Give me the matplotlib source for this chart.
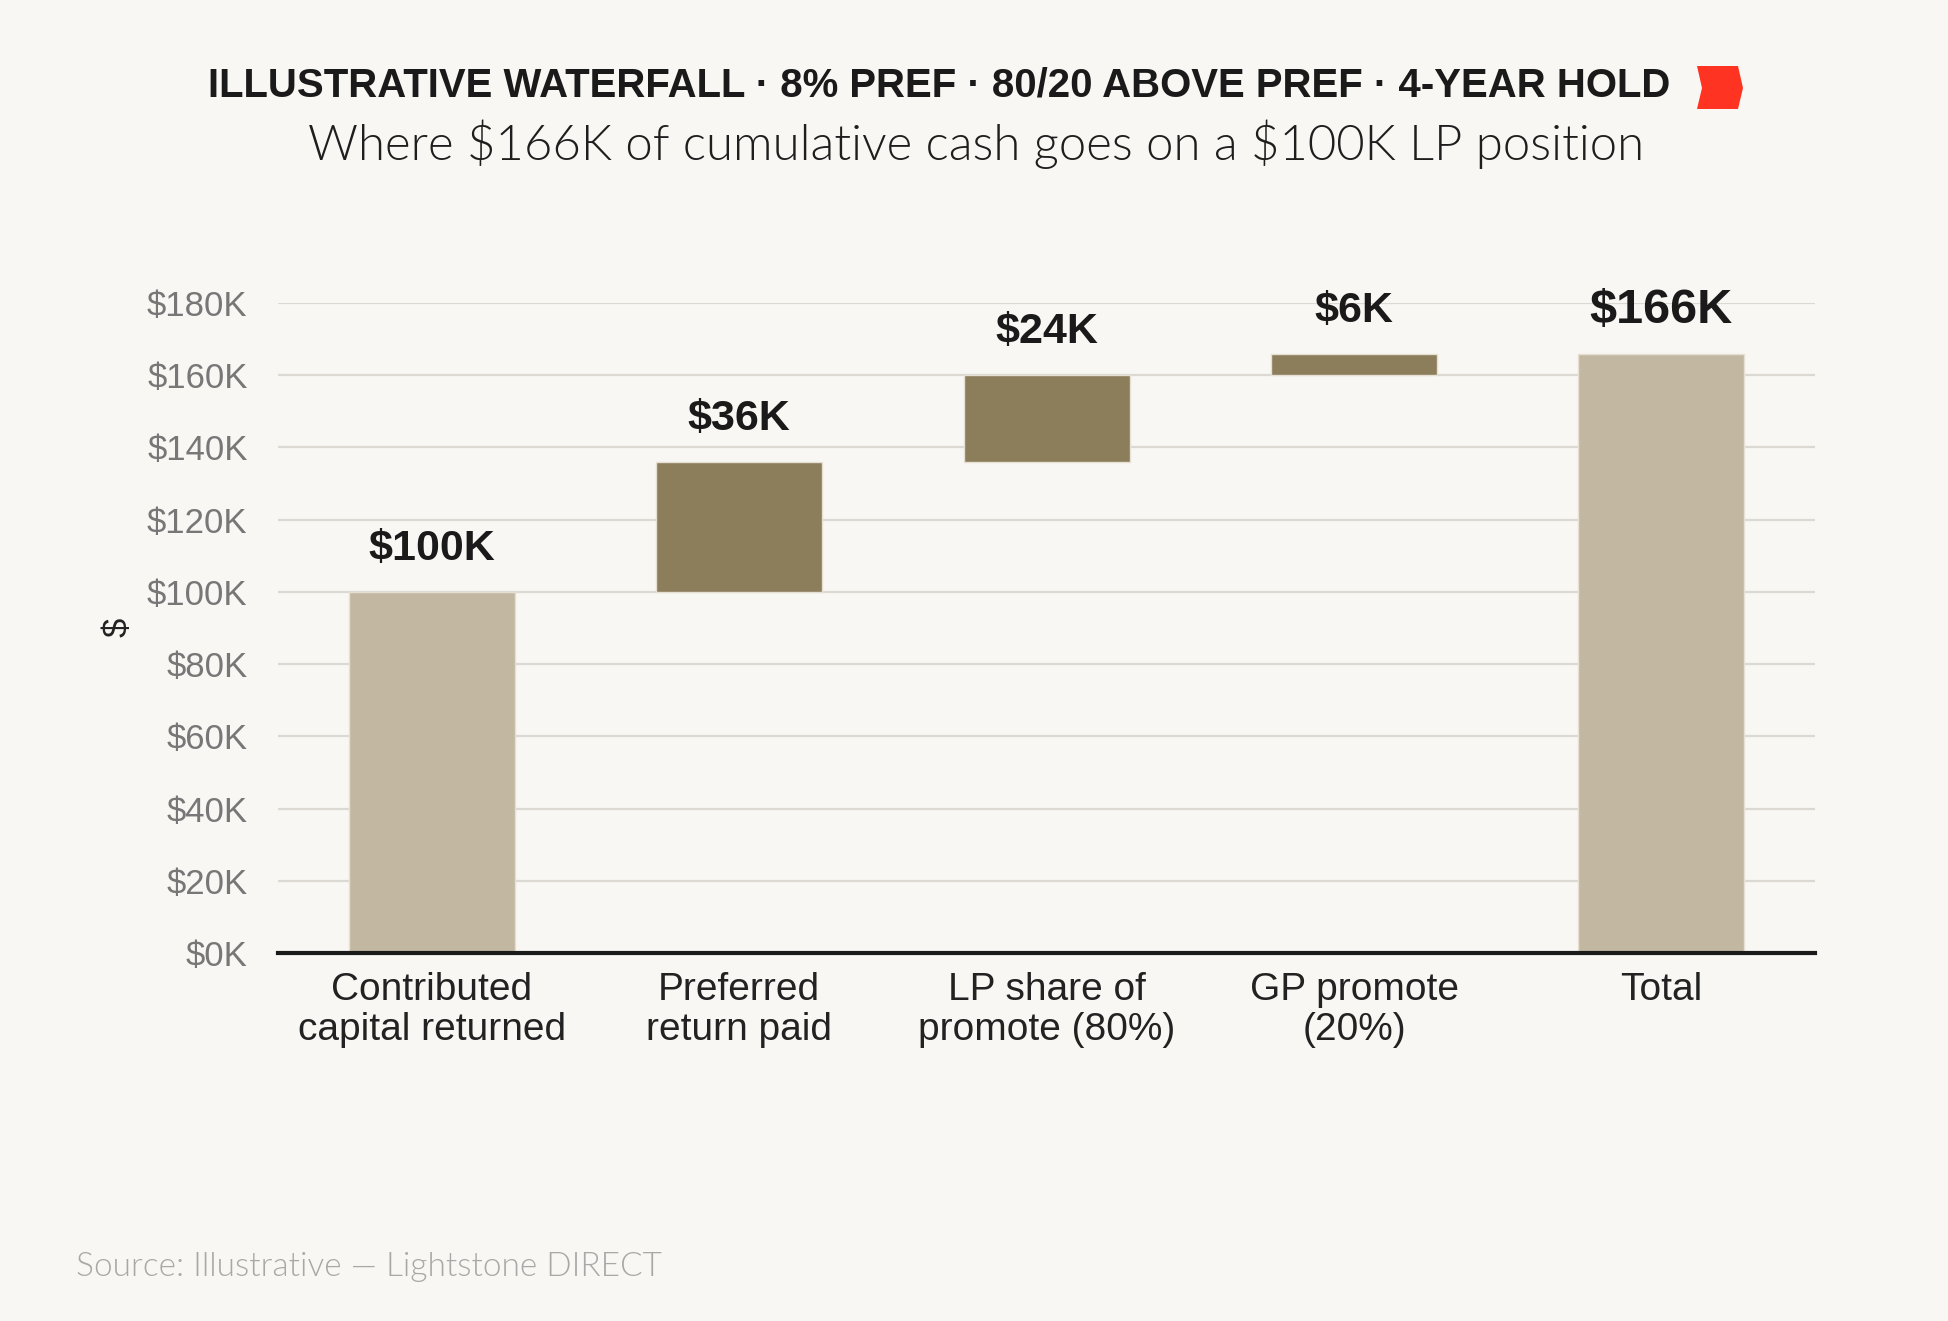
import matplotlib
matplotlib.use("Agg")
import matplotlib.pyplot as plt
from matplotlib.patches import Polygon
from matplotlib.ticker import FuncFormatter

categories = ["Contributed\ncapital returned", "Preferred\nreturn paid",
              "LP share of\npromote (80%)", "GP promote\n(20%)", "Total"]
steps = [100000, 36000, 24000, 6000]
total = 166000
value_labels = ["\\$100K", "\\$36K", "\\$24K", "\\$6K", "\\$166K"]
y_ticks = [0, 20000, 40000, 60000, 80000, 100000, 120000, 140000, 160000, 180000]

BG = "#F9F7F3"
LIGHT = "#C2B7A0"
DARK = "#8C7D5B"
plt.rcParams["font.family"] = ["Liberation Sans", "DejaVu Sans"]

fig = plt.figure(figsize=(9.745, 6.605), dpi=200, facecolor=BG)
ax = fig.add_axes([0.1427, 0.2786, 0.7886, 0.492])
ax.set_facecolor(BG)

# waterfall bottoms
bottoms = []
run = 0
for i, s in enumerate(steps):
    bottoms.append(0 if i == 0 else run)
    run += s
heights = steps + [total]
bottoms = bottoms + [0]
colors = [LIGHT, DARK, DARK, DARK, LIGHT]
x = list(range(len(categories)))

ax.bar(x, heights, bottom=bottoms, width=0.54, color=colors,
       edgecolor="#E6E0D4", linewidth=0.5, zorder=3)

for i in x:
    top = bottoms[i] + heights[i]
    big = i == len(x) - 1
    ax.annotate(value_labels[i], (i, top), xytext=(0, 15.5), textcoords="offset points",
                ha="center", va="center", fontsize=17.5 if big else 15.5,
                fontweight="bold", color="#1a1a1a", zorder=4, annotation_clip=False)

ax.set_xlim(-0.5, 4.5)
ax.set_ylim(0, 180000)
ax.set_yticks(y_ticks)
ax.yaxis.set_major_formatter(FuncFormatter(lambda v, p: "${:d}K".format(int(v / 1000))))
ax.set_xticks(x)
ax.set_xticklabels(categories, fontsize=14, color="#222222", linespacing=1.12)
ax.tick_params(axis="y", length=0, pad=11, labelsize=12.5, labelcolor="#777777")
ax.tick_params(axis="x", length=0, pad=7)
ax.grid(axis="y", color="#DCD9D3", linewidth=0.8, zorder=0)
for side in ["top", "right", "left"]:
    ax.spines[side].set_visible(False)
ax.spines["bottom"].set_color("#1a1a1a")
ax.spines["bottom"].set_linewidth(1.5)
ax.spines["bottom"].set_zorder(5)

fig.text(0.0606, 0.525, "$", rotation=90, ha="center", va="center",
         fontsize=12.5, color="#222222")

fig.text(0.482, 0.935, "ILLUSTRATIVE WATERFALL · 8% PREF · 80/20 ABOVE PREF · 4-YEAR HOLD",
         ha="center", va="center", fontsize=14.45, fontweight="bold", color="#1a1a1a")
fig.text(0.5008, 0.891, "Where \\$166K of cumulative cash goes on a \\$100K LP position",
         ha="center", va="center", fontsize=17.7, fontweight=300,
         family=["Lato", "DejaVu Sans"], color="#1e1e1e")
fig.text(0.039, 0.041, "Source: Illustrative — Lightstone DIRECT",
         ha="left", va="center", fontsize=12.0, fontweight=300,
         family=["Lato", "DejaVu Sans"], color="#A8A8A8")

# red chevron marker next to the title
W, H = 1949.0, 1321.0
pts = [(1697, 66), (1738, 66), (1743, 88), (1738, 109), (1697, 109), (1702, 88)]
fig.patches.append(Polygon([(px / W, 1 - py / H) for px, py in pts], closed=True,
                           transform=fig.transFigure, facecolor="#FF3322",
                           edgecolor="none"))

fig.savefig("out.png", dpi=200, facecolor=BG)
